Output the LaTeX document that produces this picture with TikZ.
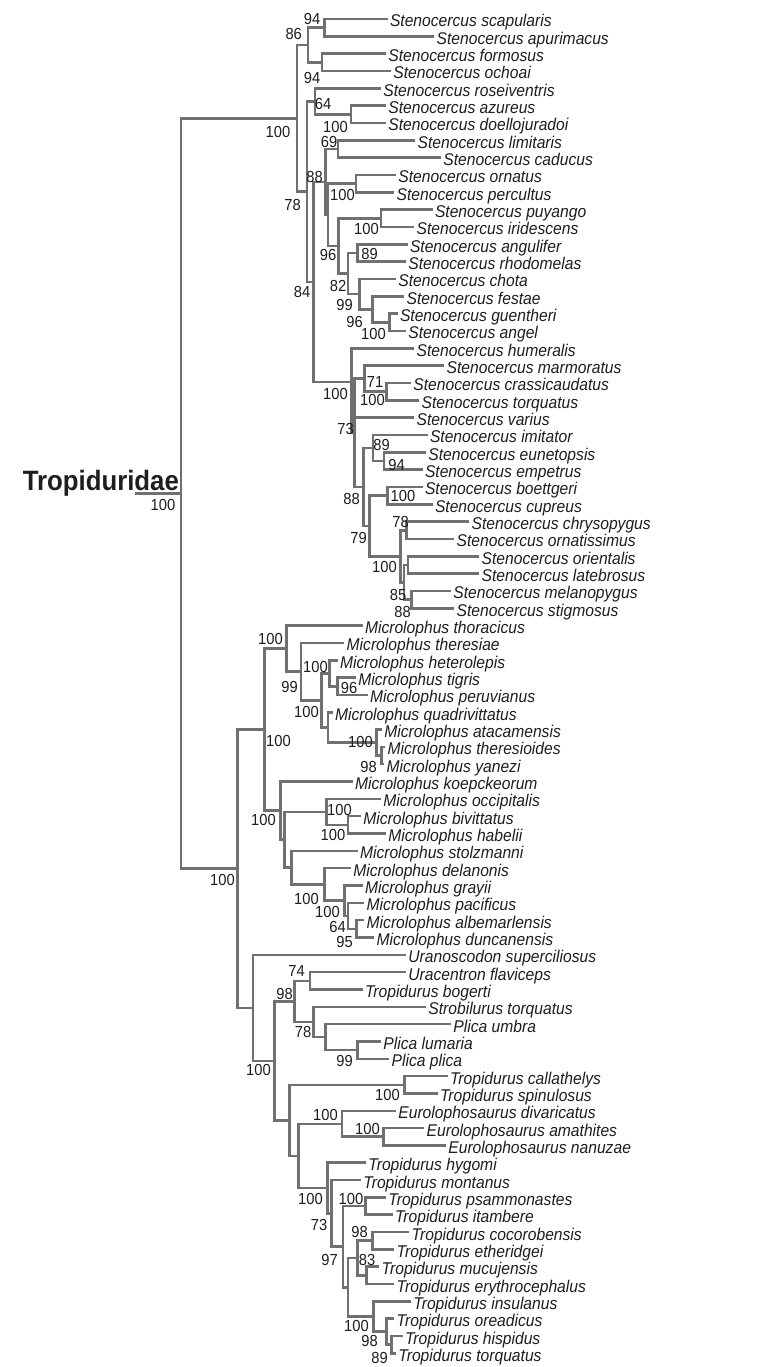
\documentclass[tikz,border=0pt]{standalone}
\usepackage{fontspec}
\setmainfont[FakeStretch=0.92]{Liberation Sans}
\usetikzlibrary{calc}

\definecolor{branch}{RGB}{112,112,112}
\definecolor{ink}{RGB}{30,30,30}

\tikzset{
  taxon/.style={anchor=west, inner xsep=3.5pt, inner ysep=0pt,
    text height=16pt, text depth=0pt,
    font=\fontsize{17}{17}\selectfont\itshape, text=ink},
  bs/.style={inner sep=0pt, font=\fontsize{16}{16}\selectfont, text=ink},
  family/.style={anchor=base east, inner sep=0pt,
    font=\fontsize{28}{28}\selectfont\bfseries, text=ink},
  edge/.style={draw=branch, line width=2.6pt, line cap=rect}
}

% clade: name, x of the node, first child, last child
\newcommand\clade[4]{%
  \path let \p1=(#3), \p2=(#4) in coordinate (#1) at (#2pt,{(\y1+\y2)/2});
  \draw[edge] (#1) |- (#3);
  \draw[edge] (#1) |- (#4);
}

\begin{document}
\begin{tikzpicture}[x=1pt, y=-1pt]

  \path[fill=white, use as bounding box] (0,0) rectangle (768,1367);

  % Taksa (ujung cabang)
  \foreach \x/\name [count=\i] in {
    386.3/Stenocercus scapularis, 433/Stenocercus apurimacus,
    384.7/Stenocercus formosus, 389.7/Stenocercus ochoai,
    379.7/Stenocercus roseiventris, 384.7/Stenocercus azureus,
    384.7/Stenocercus doellojuradoi, 414/Stenocercus limitaris,
    439.7/Stenocercus caducus, 394.7/Stenocercus ornatus,
    393/Stenocercus percultus, 431.3/Stenocercus puyango,
    413/Stenocercus iridescens, 406.3/Stenocercus angulifer,
    404.7/Stenocercus rhodomelas, 394.7/Stenocercus chota,
    403/Stenocercus festae, 396.3/Stenocercus guentheri,
    404.7/Stenocercus angel, 413/Stenocercus humeralis,
    443/Stenocercus marmoratus, 409.7/Stenocercus crassicaudatus,
    418/Stenocercus torquatus, 413/Stenocercus varius,
    426.3/Stenocercus imitator, 424.7/Stenocercus eunetopsis,
    421.3/Stenocercus empetrus, 421.3/Stenocercus boettgeri,
    431.3/Stenocercus cupreus, 468/Stenocercus chrysopygus,
    453/Stenocercus ornatissimus, 478/Stenocercus orientalis,
    478/Stenocercus latebrosus, 449.7/Stenocercus melanopygus,
    453/Stenocercus stigmosus,
    361.3/Microlophus thoracicus, 343/Microlophus theresiae,
    336.3/Microlophus heterolepis, 354.7/Microlophus tigris,
    366.3/Microlophus peruvianus, 331.3/Microlophus quadrivittatus,
    380.7/Microlophus atacamensis, 384/Microlophus theresioides,
    383/Microlophus yanezi, 351.3/Microlophus koepckeorum,
    379.7/Microlophus occipitalis, 359.7/Microlophus bivittatus,
    384.7/Microlophus habelii, 356.3/Microlophus stolzmanni,
    349.7/Microlophus delanonis, 361.3/Microlophus grayii,
    363/Microlophus pacificus, 363/Microlophus albemarlensis,
    373/Microlophus duncanensis,
    404.7/Uranoscodon superciliosus, 404.7/Uracentron flaviceps,
    361.3/Tropidurus bogerti, 424.7/Strobilurus torquatus,
    449.7/Plica umbra, 379.7/Plica lumaria, 388/Plica plica,
    446.3/Tropidurus callathelys, 436.3/Tropidurus spinulosus,
    394.7/Eurolophosaurus divaricatus, 423/Eurolophosaurus amathites,
    444.7/Eurolophosaurus nanuzae, 364.7/Tropidurus hygomi,
    359.7/Tropidurus montanus, 384.7/Tropidurus psammonastes,
    391.3/Tropidurus itambere, 408/Tropidurus cocorobensis,
    393/Tropidurus etheridgei, 378/Tropidurus mucujensis,
    393/Tropidurus erythrocephalus, 409.7/Tropidurus insulanus,
    393/Tropidurus oreadicus, 401.3/Tropidurus hispidus,
    394.7/Tropidurus torquatus}
    \node[taxon] (t\i) at (\x,{19+(\i-1)*17.33}) {\name};

  % Stenocercus
  \clade{n94a}{324.7}{t1.west}{t2.west}
  \clade{n94b}{322}{t3.west}{t4.west}
  \clade{n86}{308}{n94a}{n94b}
  \clade{n100az}{351}{t6.west}{t7.west}
  \clade{n64a}{315}{t5.west}{n100az}
  \clade{n69}{338}{t8.west}{t9.west}
  \clade{n100or}{356}{t10.west}{t11.west}
  \clade{n100pu}{381}{t12.west}{t13.west}
  \clade{n89a}{357.3}{t14.west}{t15.west}
  \clade{n100gu}{389.7}{t18.west}{t19.west}
  \clade{n96b}{372.3}{t17.west}{n100gu}
  \clade{n99a}{359.7}{t16.west}{n96b}
  \clade{n82}{348}{n89a}{n99a}
  \clade{n96a}{338.7}{n100pu}{n82}
  \clade{nX}{328}{n100or}{n96a}
  \clade{n88a}{325.5}{n69}{nX}
  \clade{n100ct}{386.3}{t22.west}{t23.west}
  \clade{n71}{364.7}{t21.west}{n100ct}
  \clade{n94c}{384}{t26.west}{t27.west}
  \clade{n89b}{373}{t25.west}{n94c}
  \clade{n100bc}{387.3}{t28.west}{t29.west}
  \clade{n78b}{406.3}{t30.west}{t31.west}
  \clade{n100ol}{408}{t32.west}{t33.west}
  \clade{n88c}{411.3}{t34.west}{t35.west}
  \clade{n85}{404}{n100ol}{n88c}
  \clade{n100chr}{400.5}{n78b}{n85}
  \clade{n79}{369.7}{n100bc}{n100chr}
  \clade{n88b}{363.5}{n89b}{n79}
  \clade{n73a}{354.7}{n71}{n88b}
  \draw[edge] (n73a) |- (t24.west);
  \coordinate (n100hu) at (351.3,382);
  \draw[edge] (n100hu) |- (t20.west);
  \draw[edge] (n100hu) |- (n73a);
  \clade{n84}{313.5}{n88a}{n100hu}
  \clade{n78a}{307}{n64a}{n84}
  \clade{nSt}{297}{n86}{n78a}

  % Microlophus
  \clade{n96c}{337.3}{t39.west}{t40.west}
  \clade{n100h}{329.7}{t38.west}{n96c}
  \clade{n98a}{381.3}{t43.west}{t44.west}
  \clade{n100at}{376.3}{t42.west}{n98a}
  \clade{nQ}{328}{t41.west}{n100at}
  \clade{n100x}{321.3}{n100h}{nQ}
  \clade{n99b}{301}{t37.west}{n100x}
  \clade{n100th}{286.3}{t36.west}{n99b}
  \clade{n100bh}{348}{t47.west}{t48.west}
  \clade{n100oc}{326.3}{t46.west}{n100bh}
  \clade{n95}{356.3}{t53.west}{t54.west}
  \clade{n64b}{348}{t52.west}{n95}
  \clade{n100g}{344.7}{t51.west}{n64b}
  \clade{n100d}{324.7}{t50.west}{n100g}
  \clade{nS}{291.3}{t49.west}{n100d}
  \clade{nK}{284.7}{n100oc}{nS}
  \clade{n100k}{280.7}{t45.west}{nK}
  \clade{nMic}{264.7}{n100th}{n100k}

  % Tropidurus, Plica, Eurolophosaurus
  \clade{n74}{310}{t56.west}{t57.west}
  \clade{n99c}{357.3}{t60.west}{t61.west}
  \clade{nPl}{325.3}{t59.west}{n99c}
  \clade{n78c}{313.3}{t58.west}{nPl}
  \clade{n98b}{294.7}{n74}{n78c}
  \clade{n100cs}{404.7}{t62.west}{t63.west}
  \clade{n100am}{383.3}{t65.west}{t66.west}
  \clade{nEu}{342}{t64.west}{n100am}
  \clade{n100ps}{365.3}{t69.west}{t70.west}
  \clade{n98c}{372.3}{t71.west}{t72.west}
  \clade{n83}{366.3}{t73.west}{t74.west}
  \clade{nCE}{357.3}{n98c}{n83}
  \clade{n89c}{391.3}{t77.west}{t78.west}
  \clade{n98d}{386.3}{t76.west}{n89c}
  \clade{n100i}{373.7}{t75.west}{n98d}
  \clade{n97}{348}{nCE}{n100i}
  \clade{nPs}{343}{n100ps}{n97}
  \clade{n73b}{331.3}{t68.west}{nPs}
  \clade{n100tr}{327.3}{t67.west}{n73b}
  \clade{nET}{298.7}{nEu}{n100tr}
  \clade{nLow}{289.7}{n100cs}{nET}
  \clade{n100T}{274.7}{n98b}{nLow}
  \clade{nU}{253}{t55.west}{n100T}
  \clade{nMT}{237.3}{nMic}{nU}

  % Akar
  \clade{nRoot}{181}{nSt}{nMT}
  \draw[edge] (nRoot) -- ++(-45,0) coordinate (stem);
  \node[family] (fam) at (179,490) {Tropiduridae};

  % Nilai bootstrap
  \foreach \x/\y/\v [count=\k] in {
    312/18.5/94, 293.7/33.5/86, 312/77.5/94, 323/103.5/64,
    278/131.5/100, 335.5/126.5/100, 329/141.5/69, 314.5/176.5/88,
    342.5/195/100, 292.5/205/78, 366.5/228.5/100, 328/255/96,
    369.5/254/89, 338/285.5/82, 302/291.5/84, 344.5/305/99,
    354.5/321.5/96, 373.5/333.5/100, 335.5/393.5/100, 375/381.5/71,
    372.5/400/100, 345.5/428.5/73, 381.5/444.5/89, 396.5/465/94,
    351.5/498.5/88, 403/496/100, 400.5/521.5/78, 358.5/537.5/79,
    384.5/566.5/100, 398/595/85, 402.5/611.5/88, 163/504.5/100,
    270.5/638.5/100, 315.5/666.5/100, 289.5/686.5/99, 349/687.5/96,
    306.5/711.5/100, 360.5/741.5/100, 278.5/740.5/100, 368.5/766.5/98,
    339.5/809.5/100, 263.5/820/100, 333/835/100, 222.5/879.5/100,
    306.5/898.5/100, 327.5/911.5/100, 337.5/926.5/64, 344.5/941.5/95,
    296.5/970.5/74, 284.5/993.5/98, 303/1031.5/78, 344.5/1060.5/99,
    258.5/1069.5/100, 387.5/1095/100, 325.5/1115/100, 367.5/1128.5/100,
    310.5/1198.5/100, 351/1198.5/100, 319/1225/73, 359.5/1231.5/98,
    329.5/1260/97, 367/1260/83, 356.5/1325.5/100, 369.5/1340.5/98,
    379.5/1357.5/89}
    \node[bs] (b\k) at (\x,\y) {\v};

\end{tikzpicture}
\end{document}
